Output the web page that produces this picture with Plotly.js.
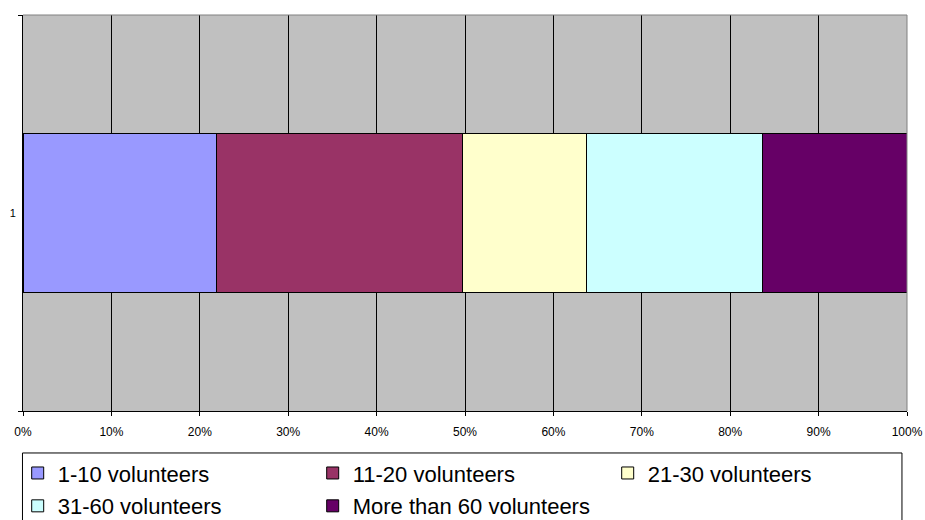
<!DOCTYPE html>
<html><head><meta charset="utf-8">
<script src="https://cdn.plot.ly/plotly-3.0.1.min.js"></script>
<style>html,body{margin:0;padding:0;background:#fff}#chart{width:925px;height:520px}</style>
</head><body><div id="chart"></div>
<script>
const category = ["1"];
const seriesNames = ["1-10 volunteers", "11-20 volunteers", "21-30 volunteers", "31-60 volunteers", "More than 60 volunteers"];
const seriesValues = [21.9, 27.8, 14.1, 19.8, 16.4];
const seriesColors = ["#9999FF", "#993366", "#FFFFCC", "#CCFFFF", "#660066"];
const seriesLegendRow = ["legend", "legend", "legend", "legend2", "legend2"];
const xTickValues = [0, 10, 20, 30, 40, 50, 60, 70, 80, 90, 100];
const xTickLabels = ["0%", "10%", "20%", "30%", "40%", "50%", "60%", "70%", "80%", "90%", "100%"];

const FONT = "Arial, 'Liberation Sans', sans-serif";

const traces = seriesNames.map((name, i) => ({
  type: "bar",
  orientation: "h",
  name: name,
  x: [seriesValues[i]],
  y: category,
  legend: seriesLegendRow[i],
  marker: { color: seriesColors[i], line: { color: "#000000", width: 1 } },
  hoverinfo: "name+x"
}));

const legendCommon = {
  orientation: "h",
  xanchor: "left",
  yanchor: "middle",
  x: -0.006,
  entrywidth: 250,
  entrywidthmode: "pixels",
  font: { family: FONT, size: 22, color: "#000000" },
  bgcolor: "rgba(0,0,0,0)",
  borderwidth: 0,
  traceorder: "normal",
  itemclick: false,
  itemdoubleclick: false
};

const layout = {
  width: 925,
  height: 520,
  margin: { l: 23, r: 18, t: 15, b: 109, autoexpand: false },
  paper_bgcolor: "#FFFFFF",
  plot_bgcolor: "#C0C0C0",
  barmode: "stack",
  bargap: 0.6,
  showlegend: true,
  font: { family: FONT, color: "#000000" },
  xaxis: {
    range: [0, 100],
    tickmode: "array",
    tickvals: xTickValues,
    ticktext: xTickLabels,
    ticks: "outside",
    ticklen: 4,
    tickcolor: "#000000",
    ticklabelstandoff: 6,
    showgrid: true,
    gridcolor: "#000000",
    gridwidth: 1,
    showline: true,
    linecolor: "#000000",
    linewidth: 1,
    zeroline: false,
    tickfont: { family: FONT, size: 12, color: "#000000" },
    fixedrange: true
  },
  yaxis: {
    type: "category",
    tickson: "boundaries",
    ticks: "outside",
    ticklen: 4,
    tickcolor: "#000000",
    ticklabelstandoff: 4,
    showgrid: false,
    showline: true,
    linecolor: "#000000",
    linewidth: 1,
    zeroline: false,
    tickfont: { family: FONT, size: 11, color: "#000000" },
    fixedrange: true
  },
  legend: Object.assign({}, legendCommon, { y: -0.157 }),
  legend2: Object.assign({}, legendCommon, { y: -0.240 }),
  shapes: [
    { type: "line", xref: "paper", yref: "paper", x0: 0, x1: 1, y0: 1, y1: 1, line: { color: "#808080", width: 1 } },
    { type: "line", xref: "paper", yref: "paper", x0: 1, x1: 1, y0: 0, y1: 1, line: { color: "#808080", width: 1 } },
    { type: "rect", xref: "paper", yref: "paper", x0: -0.0006, x1: 0.9943, y0: -0.106, y1: -0.31, line: { color: "#000000", width: 1 }, fillcolor: "rgba(0,0,0,0)" }
  ]
};

Plotly.newPlot("chart", traces, layout, { displayModeBar: false, staticPlot: false });
</script>
</body></html>
